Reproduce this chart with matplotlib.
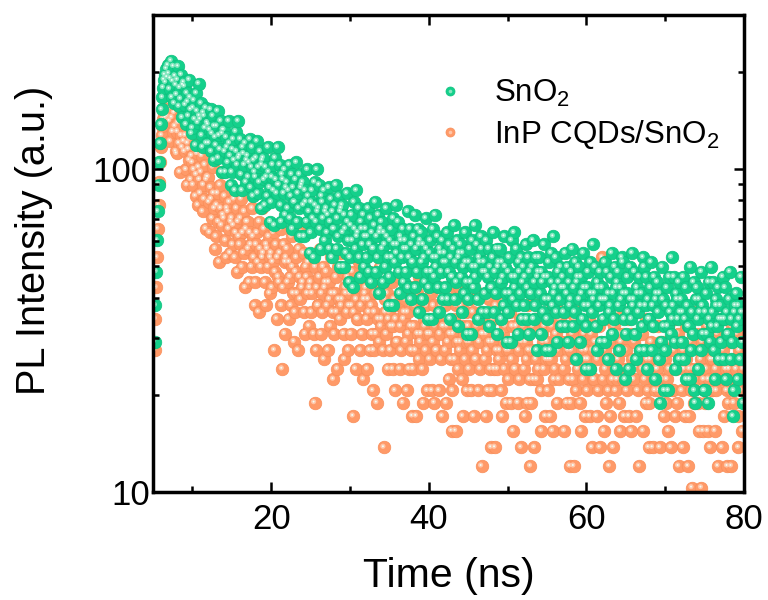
import numpy as np
import matplotlib
matplotlib.use('Agg')
import matplotlib.pyplot as plt
from matplotlib import transforms
from matplotlib.lines import Line2D
from matplotlib.legend_handler import HandlerTuple
from matplotlib.ticker import NullFormatter

plt.rcParams['font.family'] = ['Liberation Sans', 'DejaVu Sans']
plt.rcParams['mathtext.default'] = 'regular'

# TRPL histograms: 0.1 ns channels from 5.2 ns, counts
t_start = 5.2
t_step = 0.1
count_scale = 1.72          # raw counts -> plotted intensity

sno2_counts = [
    17, 22, 28, 35, 43, 52, 61, 70, 80, 89, 97, 104, 110, 114, 108, 119, 112, 122,
    115, 103, 111, 126, 97, 109, 121, 93, 113, 106,
    99, 110, 121, 91, 104, 96, 114, 84, 106, 108,
    105, 92, 80, 100, 94, 85, 110, 97, 89, 75,
    78, 90, 95, 83, 69, 100, 88, 81, 107, 85,
    83, 93, 74, 68, 87, 85, 78, 90, 70, 81,
    80, 70, 77, 89, 66, 75, 85, 62, 79, 73,
    69, 79, 88, 63, 74, 67, 82, 57, 75, 77,
    77, 66, 57, 73, 68, 61, 82, 70, 64, 52,
    57, 67, 72, 62, 50, 76, 66, 60, 82, 63,
    64, 72, 56, 50, 68, 65, 60, 70, 53, 62,
    64, 55, 61, 72, 51, 59, 68, 48, 62, 57,
    55, 63, 71, 49, 59, 53, 66, 44, 60, 62,
    63, 54, 45, 59, 55, 48, 68, 57, 51, 40,
    46, 55, 60, 50, 39, 63, 54, 49, 68, 52,
    52, 60, 45, 40, 56, 54, 49, 58, 42, 51,
    53, 44, 50, 60, 41, 48, 56, 38, 51, 46,
    46, 54, 61, 40, 49, 44, 56, 36, 51, 52,
    53, 45, 36, 50, 46, 40, 58, 48, 43, 32,
    37, 46, 50, 41, 31, 53, 45, 40, 58, 43,
    44, 52, 38, 33, 48, 46, 41, 50, 35, 43,
    44, 37, 42, 51, 33, 40, 47, 31, 43, 38,
    38, 45, 52, 33, 41, 36, 48, 29, 43, 44,
    45, 37, 29, 42, 38, 32, 49, 40, 35, 26,
    31, 39, 42, 35, 25, 46, 38, 33, 50, 36,
    37, 44, 31, 27, 40, 38, 34, 42, 29, 36,
    38, 31, 36, 44, 28, 34, 41, 26, 37, 33,
    33, 39, 46, 28, 36, 31, 42, 24, 37, 38,
    40, 33, 26, 37, 34, 29, 44, 36, 31, 22,
    27, 35, 38, 31, 22, 41, 34, 30, 45, 32,
    34, 40, 28, 24, 36, 35, 31, 38, 26, 33,
    35, 28, 33, 43, 25, 31, 38, 23, 34, 30,
    30, 36, 42, 25, 33, 28, 38, 21, 34, 35,
    37, 30, 23, 34, 31, 26, 41, 33, 28, 20,
    25, 32, 35, 28, 20, 38, 31, 27, 42, 29,
    31, 36, 25, 21, 33, 32, 28, 35, 23, 30,
    32, 25, 30, 37, 23, 28, 34, 20, 31, 27,
    27, 33, 39, 23, 30, 26, 35, 19, 31, 32,
    34, 27, 21, 32, 29, 24, 37, 30, 26, 18,
    23, 30, 33, 26, 18, 35, 29, 25, 39, 27,
    29, 34, 23, 20, 31, 30, 36, 33, 21, 28,
    30, 24, 28, 35, 21, 27, 33, 19, 29, 25,
    25, 31, 37, 21, 28, 24, 33, 18, 29, 30,
    33, 26, 20, 30, 27, 22, 36, 29, 24, 17,
    21, 28, 31, 24, 17, 35, 27, 23, 37, 25,
    27, 33, 22, 18, 30, 28, 24, 31, 20, 26,
    29, 22, 27, 34, 20, 25, 31, 18, 28, 24,
    24, 29, 35, 20, 26, 22, 31, 16, 27, 28,
    31, 24, 18, 28, 26, 21, 34, 27, 23, 16,
    20, 27, 30, 23, 16, 32, 26, 22, 36, 24,
    25, 31, 21, 17, 28, 26, 23, 29, 19, 25,
    27, 21, 25, 32, 19, 24, 29, 17, 26, 22,
    23, 28, 33, 19, 25, 21, 30, 15, 26, 27,
    29, 23, 17, 27, 24, 20, 32, 25, 22, 14,
    19, 25, 28, 22, 14, 30, 24, 21, 34, 23,
    24, 29, 19, 16, 26, 25, 22, 28, 17, 23,
    25, 20, 23, 30, 17, 23, 28, 15, 24, 21,
    22, 27, 32, 18, 24, 20, 29, 14, 25, 26,
    28, 22, 16, 25, 23, 31, 30, 24, 20, 13,
    18, 24, 27, 21, 14, 29, 23, 20, 32, 22,
    23, 28, 18, 15, 25, 24, 21, 27, 16, 22,
    24, 19, 31, 29, 16, 22, 27, 14, 23, 20,
    20, 25, 30, 16, 22, 19, 27, 13, 23, 24,
    26, 21, 15, 24, 11, 17, 29, 23, 19, 12,
    16, 22, 25, 19, 12, 27, 21, 18, 31, 20,
    22, 27, 17, 14, 24, 23, 20, 26, 15, 21,
    23, 17, 21, 27, 15, 20, 25, 13, 22, 19,
    19, 13, 29, 16, 21, 18, 26, 12, 11, 23,
    25, 20, 14, 23, 21, 16, 28, 22, 18, 12,
    12, 21, 24, 18, 11, 26, 20, 17, 29, 19,
    21, 26, 16, 13, 23, 22, 19, 25, 15, 20,
    22, 17, 20, 27, 15, 20, 25, 13, 21, 18,
    18, 23, 28, 15, 20, 17, 10, 12, 21, 22,
    24, 19, 13, 22, 20, 15, 27, 21, 17, 11,
    21,
]

inp_counts = [
    16, 20, 25, 31, 38, 45, 53, 61, 68, 74, 79, 83, 86, 88, 84, 90, 85, 88,
    94, 82, 71, 90, 84, 76, 100, 87, 79, 66,
    65, 76, 81, 70, 57, 85, 74, 68, 91, 71,
    66, 74, 58, 52, 70, 67, 62, 72, 54, 64,
    61, 52, 58, 68, 48, 56, 65, 45, 59, 54,
    49, 57, 64, 43, 52, 47, 60, 38, 54, 55,
    55, 46, 37, 51, 47, 41, 59, 49, 44, 33,
    36, 45, 49, 40, 30, 52, 44, 39, 57, 42,
    41, 48, 35, 31, 44, 43, 38, 46, 32, 40,
    41, 34, 39, 47, 31, 37, 44, 28, 40, 36,
    34, 41, 47, 29, 37, 32, 43, 25, 38, 40,
    40, 33, 26, 37, 34, 29, 44, 36, 31, 22,
    26, 34, 37, 30, 21, 40, 33, 29, 44, 31,
    32, 38, 26, 22, 34, 33, 29, 36, 24, 31,
    32, 25, 30, 37, 16, 28, 34, 20, 31, 27,
    26, 32, 38, 22, 14, 25, 34, 18, 30, 31,
    33, 26, 20, 30, 27, 22, 36, 29, 24, 17,
    21, 28, 31, 24, 16, 33, 27, 23, 37, 25,
    26, 32, 21, 18, 29, 27, 24, 30, 19, 25,
    26, 21, 24, 31, 18, 11, 29, 16, 25, 22,
    22, 27, 33, 18, 24, 21, 29, 15, 25, 26,
    28, 22, 16, 26, 23, 19, 31, 24, 21, 13,
    18, 24, 27, 21, 14, 29, 23, 20, 32, 22,
    23, 28, 18, 15, 25, 24, 21, 27, 16, 22,
    24, 18, 22, 28, 10, 21, 26, 14, 23, 20,
    20, 25, 30, 16, 22, 18, 27, 13, 23, 24,
    25, 20, 14, 23, 21, 16, 28, 22, 18, 12,
    16, 21, 24, 18, 11, 26, 20, 17, 29, 19,
    20, 25, 16, 8, 23, 21, 18, 24, 14, 20,
    21, 16, 19, 26, 14, 19, 23, 12, 20, 17,
    17, 22, 27, 14, 19, 16, 24, 11, 20, 21,
    23, 17, 12, 21, 18, 14, 25, 19, 16, 10,
    14, 19, 22, 16, 10, 24, 18, 15, 27, 17,
    18, 23, 14, 11, 20, 19, 16, 22, 12, 18,
    20, 15, 18, 24, 12, 17, 22, 11, 19, 16,
    16, 20, 25, 12, 18, 15, 22, 10, 19, 19,
    22, 16, 11, 19, 17, 13, 24, 18, 15, 9,
    12, 18, 20, 15, 9, 22, 17, 14, 25, 16,
    17, 22, 13, 10, 19, 18, 15, 21, 12, 17,
    19, 14, 17, 23, 12, 16, 21, 10, 18, 15,
    15, 19, 24, 12, 17, 14, 21, 7, 18, 18,
    20, 15, 10, 18, 16, 12, 23, 17, 14, 8,
    12, 17, 20, 14, 8, 22, 16, 14, 24, 15,
    16, 20, 12, 10, 18, 17, 14, 19, 11, 16,
    17, 13, 16, 21, 11, 15, 19, 9, 17, 14,
    14, 19, 23, 11, 16, 13, 20, 8, 17, 18,
    19, 14, 10, 17, 15, 11, 22, 16, 13, 7,
    11, 16, 19, 13, 8, 20, 15, 13, 23, 14,
    16, 20, 12, 9, 18, 17, 14, 19, 10, 15,
    17, 12, 15, 21, 10, 15, 19, 9, 16, 13,
    14, 18, 22, 11, 16, 13, 20, 28, 17, 17,
    19, 14, 9, 17, 15, 11, 21, 16, 13, 7,
    11, 16, 18, 13, 7, 20, 15, 12, 22, 14,
    15, 19, 11, 9, 17, 16, 13, 18, 10, 15,
    16, 12, 15, 20, 10, 14, 18, 8, 16, 13,
    13, 17, 22, 10, 15, 12, 19, 8, 16, 17,
    31, 13, 9, 16, 14, 11, 20, 15, 12, 7,
    10, 15, 17, 13, 8, 19, 14, 12, 21, 13,
    15, 18, 11, 9, 17, 16, 13, 18, 10, 14,
    16, 12, 14, 20, 10, 13, 18, 9, 15, 13,
    13, 17, 21, 10, 15, 12, 18, 7, 16, 15,
    18, 14, 9, 16, 13, 11, 20, 15, 12, 8,
    11, 15, 17, 14, 8, 19, 13, 12, 22, 14,
    14, 19, 12, 8, 17, 15, 13, 17, 10, 15,
    15, 11, 13, 19, 9, 14, 17, 8, 16, 12,
    12, 16, 20, 10, 14, 11, 18, 7, 15, 17,
    17, 12, 8, 16, 14, 10, 19, 15, 13, 7,
    10, 14, 17, 12, 6, 18, 14, 11, 21, 13,
    14, 18, 11, 9, 16, 15, 6, 17, 9, 13,
    16, 11, 14, 19, 9, 13, 17, 8, 15, 12,
    12, 15, 20, 9, 14, 12, 18, 7, 15, 16,
    17, 13, 8, 16, 13, 10, 20, 14, 12, 7,
    11, 14, 17, 12, 7, 19, 15, 11, 21, 13,
    14, 18, 10, 8, 16, 15, 12, 17, 9, 14,
    13,
]

labels = ['SnO$_2$', 'InP CQDs/SnO$_2$']
base_colors = ['#14D08B', '#FF9A68']
rim_colors = ['#0FC17F', '#F88E5A']
glint_colors = ['#86E6BF', '#FFC6A8']


def balls(ax, x, y, base, rim, glint):
    # shaded "ball" marker: body + offset highlight
    ax.scatter(x, y, s=82, c=base, edgecolors=rim, linewidths=0.5)
    shift = transforms.offset_copy(ax.transData, fig=ax.figure, x=-0.7, y=0.7, units='points')
    ax.scatter(x, y, s=14, c=glint, edgecolors='none', transform=shift)
    ax.scatter(x, y, s=2, c='#F0FFF8', edgecolors='none', transform=shift)


fig = plt.figure(figsize=(7.68, 6.0), dpi=100)
ax = fig.add_axes([153 / 768, 108 / 600, 591 / 768, 477 / 600])

t_sno2 = t_start + t_step * np.arange(len(sno2_counts))
t_inp = t_start + t_step * np.arange(len(inp_counts))
y_sno2 = np.array(sno2_counts) * count_scale
y_inp = np.array(inp_counts) * count_scale

# InP first, SnO2 on top
balls(ax, t_inp, y_inp, base_colors[1], rim_colors[1], glint_colors[1])
balls(ax, t_sno2, y_sno2, base_colors[0], rim_colors[0], glint_colors[0])

ax.set_yscale('log')
ax.set_xlim(5, 80)
ax.set_ylim(10, 300)

ax.set_xticks([20, 40, 60, 80])
ax.set_xticks([10, 30, 50, 70], minor=True)
ax.set_yticks([10, 100], ['10', '100'])
ax.set_yticks([20, 30, 40, 50, 60, 70, 80, 90, 200, 300], minor=True)
ax.yaxis.set_minor_formatter(NullFormatter())

ax.tick_params(which='both', direction='in', top=True, right=True, width=1.8, labelsize=25)
ax.tick_params(which='major', length=7)
ax.tick_params(which='minor', length=4)
ax.tick_params(axis='x', which='major', pad=8)
ax.tick_params(axis='y', which='major', pad=2)
for sp in ax.spines.values():
    sp.set_linewidth(2.5)

ax.set_xlabel('Time (ns)', fontsize=29.5)
ax.set_ylabel('PL Intensity (a.u.)', fontsize=28.5)
ax.xaxis.set_label_coords(0.5, -0.137)
ax.yaxis.set_label_coords(-0.169, 0.528)

handles = []
for i in range(2):
    body = Line2D([], [], ls='none', marker='o', ms=6.5, mfc=base_colors[i], mec=rim_colors[i], mew=0.5)
    glint = Line2D([], [], ls='none', marker='o', ms=2.6, mfc=glint_colors[i], mec='none')
    handles.append((body, glint))
ax.legend(handles, labels, handler_map={tuple: HandlerTuple(ndivide=1)},
          loc='upper left', bbox_to_anchor=(0.4815, 0.869), frameon=False, fontsize=22.5,
          handlelength=0.8, handletextpad=0.99, labelspacing=0.3, borderpad=0, borderaxespad=0)

fig.savefig('out.png', dpi=100)
